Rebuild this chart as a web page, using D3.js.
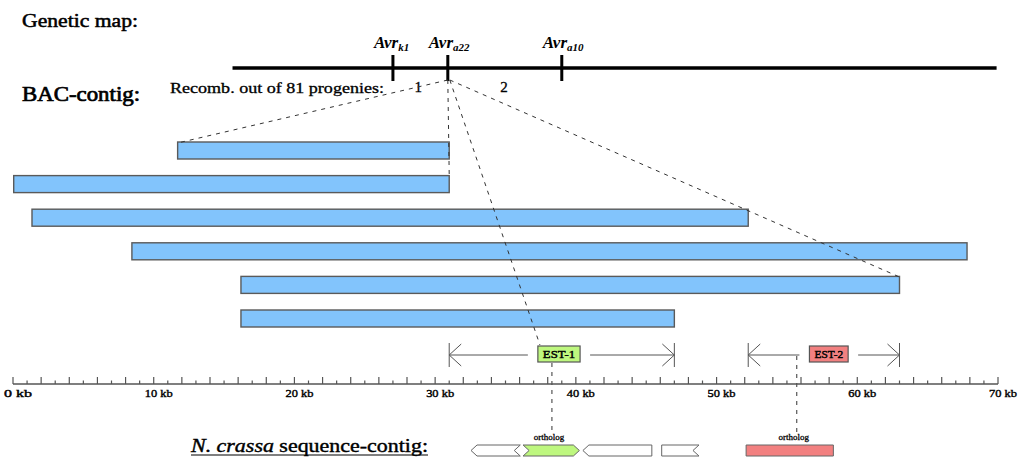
<!DOCTYPE html>
<html><head><meta charset="utf-8">
<script src="https://cdn.jsdelivr.net/npm/d3@7"></script>
<style>body{margin:0;background:#fff}svg{display:block}text{font-family:"Liberation Serif","Times New Roman",serif}</style>
</head><body>
<svg id="c" width="1020" height="457"></svg>
<script>
// ---- data (kb) ----
const bacStart = [11.7, 0.05, 1.35, 8.45, 16.2, 16.2];
const bacEnd   = [31.0, 31.0, 52.25, 67.8, 63.0, 47.0];
const axisTicks = [0,10,20,30,40,50,60,70];
const tickLabels = ["0 kb","10 kb","20 kb","30 kb","40 kb","50 kb","60 kb","70 kb"];
const mapStart = 15.6, mapEnd = 69.9;
const markerPos = [27.0, 30.9, 39.0];
const markerSub = ["k1","a22","a10"];
const recombLabels = ["1","2"];
const recombPos = [28.8, 34.9];
const estNames = ["EST-1","EST-2"];
const estRangeStart = [31.0, 52.25];
const estRangeEnd = [47.0, 63.0];
const estBoxStart = [37.3, 56.6];
const estBoxEnd = [40.3, 59.35];
const estAnchor = [38.3, 55.7];
const geneStart = [32.55, 36.25, 40.5, 46.1, 52.1];
const geneEnd   = [36.05, 40.25, 45.4, 48.75, 58.3];
const geneLeftEnd  = ["point","notch","point","flat","flat"];
const geneRightEnd = ["notch","point","flat","notch","flat"];
const geneOrtholog = [false, true, false, false, true];

const svg = d3.select("#c");
const x = d3.scaleLinear().domain([0,70]).range([13,998]);
const rowY = d3.scaleBand().domain(d3.range(bacStart.length)).range([142,327]).paddingInner(0.494);
const estFill = ["#bef77f","#f28080"];
const dash = "4,5";

function thick(sel,w){return sel.attr("stroke","#000").attr("stroke-width",w).attr("paint-order","stroke");}

// titles
thick(svg.append("text").attr("x",22).attr("y",27).attr("font-size",18)
  .attr("textLength",116).attr("lengthAdjust","spacingAndGlyphs").text("Genetic map:"),0.5);
thick(svg.append("text").attr("x",22).attr("y",101).attr("font-size",20)
  .attr("textLength",118).attr("lengthAdjust","spacingAndGlyphs").text("BAC-contig:"),0.7);
thick(svg.append("text").attr("x",170).attr("y",93).attr("font-size",14)
  .attr("textLength",214).attr("lengthAdjust","spacingAndGlyphs").text("Recomb. out of 81 progenies:"),0.3);

// genetic map
svg.append("line").attr("x1",x(mapStart)).attr("x2",x(mapEnd)).attr("y1",68).attr("y2",68)
  .attr("stroke","#000").attr("stroke-width",3.5);
const mk = svg.append("g").selectAll("g").data(markerPos).join("g");
mk.append("rect").attr("x",d=>x(d)-1.5).attr("y",55).attr("width",3).attr("height",26).attr("fill","#000");
const mt = mk.append("text").attr("x",d=>x(d)-19).attr("y",48).attr("font-size",17)
  .attr("font-weight","bold").attr("font-style","italic");
mt.append("tspan").text("Avr");
mt.append("tspan").attr("dy",3).attr("font-size",11).text((d,i)=>markerSub[i]);
svg.append("g").selectAll("text").data(recombLabels).join("text")
  .attr("x",(d,i)=>x(recombPos[i])).attr("y",92).attr("font-size",15).attr("text-anchor","middle")
  .attr("stroke","#000").attr("stroke-width",0.3).text(d=>d);

// BAC bars
svg.append("g").selectAll("rect").data(bacStart).join("rect")
  .attr("x",d=>x(d)).attr("y",(d,i)=>rowY(i)).attr("width",(d,i)=>x(bacEnd[i])-x(d))
  .attr("height",rowY.bandwidth()).attr("fill","#82c4fc").attr("stroke","#5a5a5a").attr("stroke-width",1.4);

// dashed connector lines (drawn over bars)
const conn = [
  [x(markerPos[1]), 80, x(bacStart[0]), 143],
  [x(markerPos[1]), 80, x(bacEnd[0]), 175],
  [x(markerPos[1])+2, 80, x(bacEnd[4]), 277],
  [x(markerPos[1])+2, 80, x(estAnchor[0])-12, 345],
  [x(estAnchor[0]), 363, x(estAnchor[0]), 432],
  [x(estAnchor[1]), 356, x(estAnchor[1]), 432]
];
svg.append("g").selectAll("line").data(conn).join("line")
  .attr("x1",d=>d[0]).attr("y1",d=>d[1]).attr("x2",d=>d[2]).attr("y2",d=>d[3])
  .attr("stroke","#333").attr("stroke-width",1).attr("stroke-dasharray",dash);

// EST ranges
const ey = 355;
const eg = svg.append("g").selectAll("g").data(estNames).join("g");
eg.each(function(n,i){
  const g = d3.select(this);
  const a = x(estRangeStart[i]), b = x(estRangeEnd[i]), bs = x(estBoxStart[i]), be = x(estBoxEnd[i]);
  const st = "#555";
  g.append("line").attr("x1",a).attr("x2",bs-10).attr("y1",ey).attr("y2",ey).attr("stroke",st);
  g.append("line").attr("x1",be+10).attr("x2",b).attr("y1",ey).attr("y2",ey).attr("stroke",st);
  g.append("line").attr("x1",a).attr("x2",a).attr("y1",ey-12).attr("y2",ey+12).attr("stroke",st);
  g.append("line").attr("x1",b).attr("x2",b).attr("y1",ey-12).attr("y2",ey+12).attr("stroke",st);
  g.append("path").attr("d",`M${a+12},${ey-11}L${a},${ey}L${a+12},${ey+11}`).attr("fill","none").attr("stroke",st);
  g.append("path").attr("d",`M${b-12},${ey-11}L${b},${ey}L${b-12},${ey+11}`).attr("fill","none").attr("stroke",st);
  g.append("rect").attr("x",bs).attr("y",346).attr("width",be-bs).attr("height",16)
    .attr("fill",estFill[i]).attr("stroke","#555").attr("stroke-width",1.2);
  g.append("text").attr("x",(bs+be)/2).attr("y",358).attr("font-size",10)
    .attr("stroke","#000").attr("stroke-width",0.4)
    .attr("text-anchor","middle").attr("textLength",be-bs-10).attr("lengthAdjust","spacingAndGlyphs").text(n);
});

// axis
const ticks = d3.range(0,71,1);
const ax = svg.append("g");
ax.append("line").attr("x1",x(0)).attr("x2",x(70)).attr("y1",384).attr("y2",384).attr("stroke","#555").attr("stroke-width",1.5);
ax.selectAll(".t").data(ticks).join("line").attr("class","t")
  .attr("x1",d=>x(d)).attr("x2",d=>x(d)).attr("y1",d=>d%2===0?377:380.5).attr("y2",384)
  .attr("stroke","#555").attr("stroke-width",1.2);
ax.selectAll("text").data(axisTicks).join("text")
  .attr("x",d=>x(d)+5).attr("y",397).attr("font-size",11)
  .attr("stroke","#000").attr("stroke-width",0.4)
  .attr("text-anchor","middle").attr("textLength",28).attr("lengthAdjust","spacingAndGlyphs").text((d,i)=>tickLabels[i]);

// N. crassa contig
const nt = svg.append("text").attr("x",191).attr("y",452).attr("font-size",18)
  .attr("stroke","#000").attr("stroke-width",0.4)
  .attr("textLength",237).attr("lengthAdjust","spacingAndGlyphs");
nt.append("tspan").attr("font-style","italic").text("N. crassa");
nt.append("tspan").text(" sequence-contig:");
svg.append("line").attr("x1",191).attr("x2",428).attr("y1",455).attr("y2",455).attr("stroke","#000").attr("stroke-width",1.2);

const gy0 = 445, gy1 = 456, gm = (gy0+gy1)/2, n = 6;
function genePath(a,b,l,r){
  let p = "";
  if(l==="point") p += `M${a},${gm}L${a+n},${gy0}`; else p += `M${a},${gy0}`;
  if(r==="point") p += `L${b-n},${gy0}L${b},${gm}L${b-n},${gy1}`;
  else if(r==="notch") p += `L${b},${gy0}L${b-n},${gm}L${b},${gy1}`;
  else p += `L${b},${gy0}L${b},${gy1}`;
  if(l==="point") p += `L${a+n},${gy1}Z`;
  else if(l==="notch") p += `L${a},${gy1}L${a+n},${gm}Z`;
  else p += `L${a},${gy1}Z`;
  return p;
}
svg.append("g").selectAll("path").data(geneStart).join("path")
  .attr("d",(d,i)=>genePath(x(d),x(geneEnd[i]),geneLeftEnd[i],geneRightEnd[i]))
  .attr("fill",(d,i)=>i===1?"#bef77f":(i===4?"#f28080":"#fff")).attr("stroke","#666").attr("stroke-width",1);
svg.append("g").selectAll("text").data(geneStart.filter((d,i)=>geneOrtholog[i])).join("text")
  .attr("x",(d,i)=>x(estAnchor[i])-3).attr("y",440).attr("font-size",9)
  .attr("stroke","#000").attr("stroke-width",0.3)
  .attr("text-anchor","middle").text("ortholog");
</script>
</body></html>
